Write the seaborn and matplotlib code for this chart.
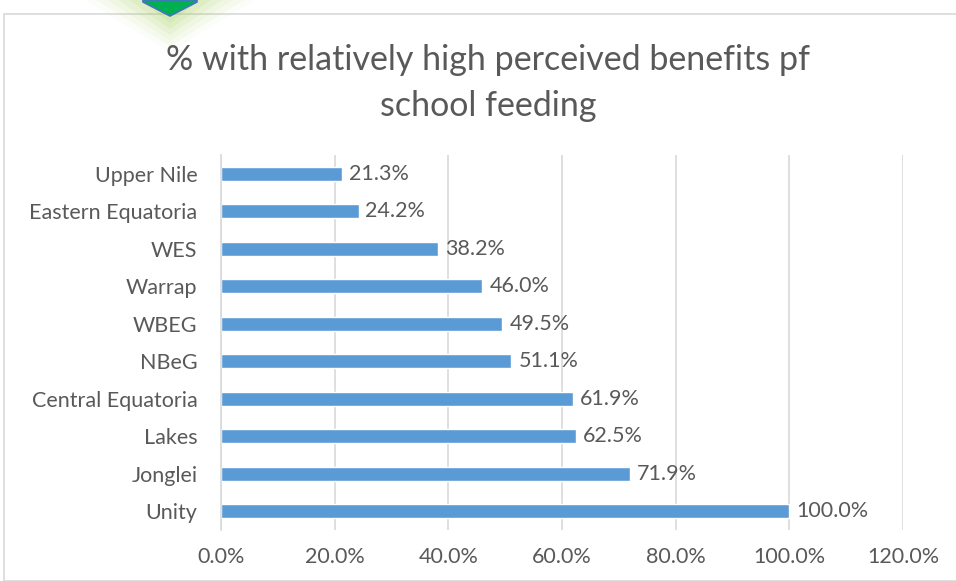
import matplotlib
matplotlib.use("Agg")
import matplotlib.pyplot as plt
from matplotlib.patches import Polygon, Rectangle
import seaborn as sns
import pandas as pd

regions = ["Upper Nile", "Eastern Equatoria", "WES", "Warrap", "WBEG",
           "NBeG", "Central Equatoria", "Lakes", "Jonglei", "Unity"]
shares = [21.3, 24.2, 38.2, 46.0, 49.5, 51.1, 61.9, 62.5, 71.9, 100.0]
x_ticks = [0, 20, 40, 60, 80, 100, 120]
title = "% with relatively high perceived benefits pf\nschool feeding"

sns.set_theme(style="white")
plt.rcParams["font.family"] = ["Lato", "DejaVu Sans"]

text_color = "#595959"
grid_color = "#d9d9d9"
bar_color = "#5b9bd5"

df = pd.DataFrame({"region": regions, "share": shares})

fig = plt.figure(figsize=(9.56, 5.81), dpi=100)
W, H = 956, 581

# chart frame
fig.patches.append(Rectangle((4 / W, 0), 1.2, 1 - 14 / H, transform=fig.transFigure,
                             fill=False, edgecolor=grid_color, linewidth=1.2, zorder=0))

# decorative green marker with a soft glow at the top
cx = 170
for i, a in enumerate([0.04, 0.06, 0.08, 0.10, 0.12, 0.14]):
    s = 1.0 - i * 0.13
    pts = [(cx - 85 * s, 0), (cx + 85 * s, 0), (cx, 44 * s + 8)]
    fig.patches.append(Polygon([(x / W, 1 - y / H) for x, y in pts], closed=True,
                               transform=fig.transFigure, facecolor="#a6d05a",
                               edgecolor="none", alpha=a, zorder=1))
arrow = [(cx - 27, 0), (cx + 27, 0), (cx + 27, 2), (cx, 16), (cx - 27, 2)]
fig.patches.append(Polygon([(x / W, 1 - y / H) for x, y in arrow], closed=True,
                           transform=fig.transFigure, facecolor="#00b050",
                           edgecolor="#4472c4", linewidth=1.2, zorder=2))

ax = fig.add_axes([221 / W, 1 - 530 / H, (903 - 221) / W, (530 - 155) / H])
sns.barplot(data=df, x="share", y="region", orient="h", color=bar_color,
            width=0.38, saturation=1, ax=ax, zorder=3)

ax.set_xlim(0, 120)
ax.set_xticks(x_ticks)
ax.set_xticklabels([f"{t:.1f}%" for t in x_ticks])
ax.set_xlabel("")
ax.set_ylabel("")
ax.grid(axis="x", color=grid_color, linewidth=1.2, zorder=0)
ax.grid(axis="y", visible=False)
for side in ["top", "right", "bottom"]:
    ax.spines[side].set_visible(False)
ax.spines["left"].set_color(grid_color)
ax.spines["left"].set_linewidth(1.2)
ax.spines["left"].set_zorder(4)
ax.tick_params(axis="both", length=0, labelsize=15.5, labelcolor=text_color)
ax.tick_params(axis="x", pad=12)
ax.tick_params(axis="y", pad=17)

for container in ax.containers:
    ax.bar_label(container, labels=[f"{v:.1f}%" for v in shares], padding=5,
                 fontsize=15.5, color=text_color)

fig.text(488 / W, 1 - 83 / H, title, ha="center", va="center",
         fontsize=24.5, color=text_color, linespacing=1.55)

fig.savefig("out.png", dpi=100, facecolor="white")
